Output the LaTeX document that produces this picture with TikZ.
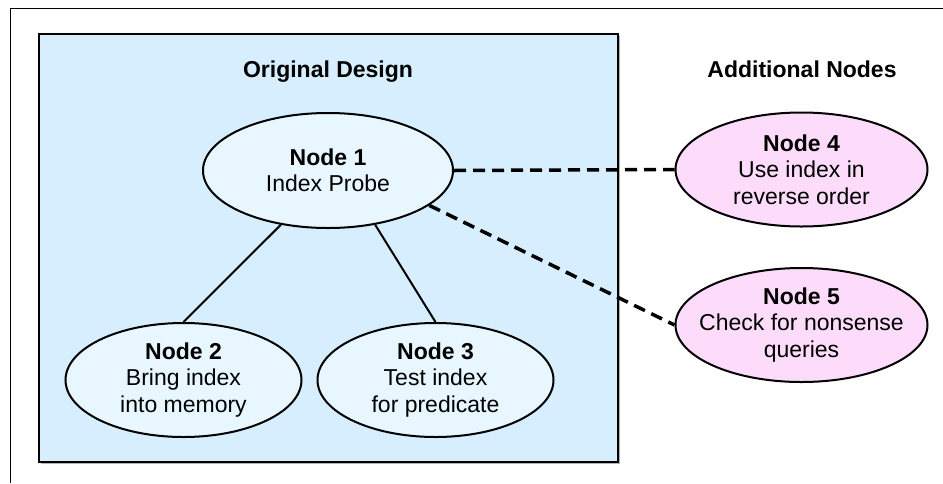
\documentclass[tikz,border=0pt]{standalone}
\usepackage{fontspec}
\setmainfont{Liberation Sans}
\usetikzlibrary{shapes.geometric}
\definecolor{panelblue}{HTML}{D6EEFE}
\definecolor{nodeblue}{HTML}{E8F6FF}
\definecolor{nodepink}{HTML}{FCDCFA}
\tikzset{
  txt/.style={font=\fontsize{23}{26.5}\selectfont},
  oval/.style={ellipse, draw=black, line width=2pt, inner xsep=-25pt, inner ysep=0pt, align=center, txt},
  bluenode/.style={oval, fill=nodeblue, minimum width=236pt, minimum height=114pt},
  pinknode/.style={oval, fill=nodepink, minimum width=252pt, minimum height=114pt},
  solidlink/.style={draw=black, line width=2pt},
  dashlink/.style={draw=black, line width=3.5pt, dash pattern=on 12pt off 7pt},
  title/.style={anchor=base, txt, font=\fontsize{23}{26.5}\selectfont\bfseries}
}
\begin{document}
\begin{tikzpicture}[x=1pt,y=-1pt]
\useasboundingbox (0,0) rectangle (943,483);
% outer frame
\draw[line width=1.3pt] (10.5,483) -- (10.5,8.5) -- (943,8.5);
% panel with shadow
\fill[gray!60] (41,36) rectangle (620,464);
\draw[fill=panelblue, line width=2.5pt] (39,34) rectangle (618,462);
% titles
\node[title] (t1) at (328,77) {Original Design};
\node[title] (t2) at (802,77) {Additional Nodes};
% nodes
\node[bluenode, minimum width=250pt, minimum height=115pt] (n1) at (328,170.5) {\textbf{Node 1}\\Index Probe};
\node[bluenode] (n2) at (183.5,380) {\textbf{Node 2}\\Bring index\\into memory};
\node[bluenode] (n3) at (435.5,380) {\textbf{Node 3}\\Test index\\for predicate};
\node[pinknode] (n4) at (801.5,169.5) {\textbf{Node 4}\\Use index in\\reverse order};
\node[pinknode] (n5) at (801.5,325) {\textbf{Node 5}\\Check for nonsense\\queries};
% connectors
\draw[solidlink] (n1.229) -- (n2.north);
\draw[solidlink] (n1.311) -- (n3.north);
\draw[dashlink] (n1.east) -- (n4.west);
\draw[dashlink] (n1.341) -- (n5.west);
\end{tikzpicture}
\end{document}
